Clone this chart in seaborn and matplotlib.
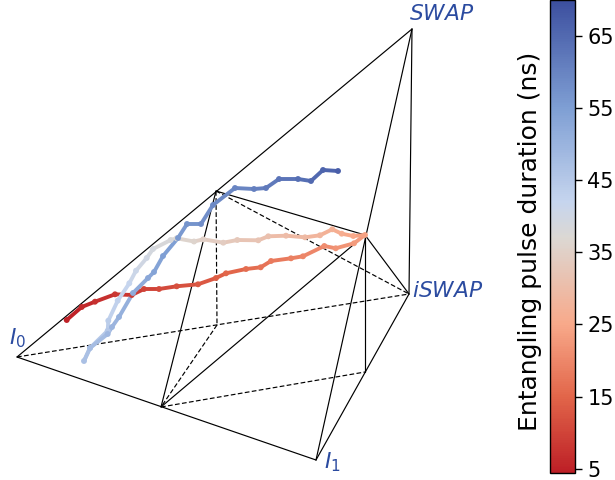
import numpy as np
import pandas as pd
import matplotlib
matplotlib.use('Agg')
import matplotlib.pyplot as plt
from matplotlib.colors import LinearSegmentedColormap
import seaborn as sns

# Weyl chamber corners
I0 = (17, 357)
I1 = (316, 460)
SWAP = (412, 29)
ISWAP = (409, 294)
A = (216, 191)
B = (365, 235)
C = (161, 407)
D = (217, 325)
E = (365, 372)

solid_edges = [(I0, SWAP), (SWAP, ISWAP), (SWAP, I1), (I0, I1), (I1, ISWAP),
               (A, C), (A, B), (B, C), (B, ISWAP), (B, E)]
dashed_edges = [(I0, ISWAP), (A, D), (D, C), (C, E), (A, ISWAP)]

traj_x = [66.7, 81.7, 95, 115, 131.7, 144, 159, 176.7, 198, 216, 226, 246, 260.7,
          271, 291, 303, 324.3, 335.7, 354, 365, 353.3, 341.7, 332.3, 320, 305,
          286, 268.3, 258.3, 237.3, 223.3, 203.3, 194, 176.7, 170.7, 153, 146.7,
          136, 129.3, 117.7, 108.3, 107.7, 90, 84, 90, 107.7, 112, 119, 133, 148,
          154, 163, 178, 187, 201, 213, 235, 254, 266, 279, 298, 311, 323, 338]
traj_y = [320, 307, 301.7, 294.3, 295, 289, 289, 286.3, 284.3, 278, 273.3, 269,
          267.3, 261, 258.3, 256.3, 246, 248.3, 243.3, 235, 236, 233.7, 229.3,
          235.3, 237.3, 235.7, 236.3, 240.3, 240, 242.7, 239.3, 241.5, 238.3, 240,
          249, 258, 270.7, 283.3, 300.7, 320.7, 330.7, 348, 361, 348, 334, 327,
          317, 293, 278, 272, 256, 238, 224, 224, 205, 188, 189, 188, 179, 179,
          181, 170, 171]
duration = list(range(5, 5 + len(traj_x)))

cbar_ticks = [5, 15, 25, 35, 45, 55, 65]
vmin, vmax = 4.4, 70
# colour stops of the bar: duration in ns and the colour read there
stop_ns = [4.4, 15, 25, 37, 42, 55, 70]
stop_colors = ['#bd1f26', '#e2664a', '#f8a98a', '#dcd8d3', '#c6d5ee', '#7f9fd4', '#3c4f9f']

df = pd.DataFrame({'x': traj_x, 'y': traj_y, 'duration': duration})

sns.set_style('white')
fig = plt.figure(figsize=(6.15, 4.8), dpi=100)
ax = fig.add_axes([0, 0, 1, 1])
norm = plt.Normalize(vmin, vmax)
cmap = LinearSegmentedColormap.from_list(
    'pulse', [(float(norm(v)), c) for v, c in zip(stop_ns, stop_colors)])

for p, q in solid_edges:
    ax.plot([p[0], q[0]], [p[1], q[1]], color='k', lw=0.85, zorder=1)
for p, q in dashed_edges:
    ax.plot([p[0], q[0]], [p[1], q[1]], color='k', lw=0.85, ls=(0, (4, 2)), zorder=1)

# one short segment per step so the colour follows the duration
for i in range(len(df) - 1):
    seg = df.iloc[i:i + 2]
    sns.lineplot(data=seg, x='x', y='y', sort=False, estimator=None,
                 color=cmap(norm(seg['duration'].iloc[0])), lw=2.8, ax=ax,
                 legend=False, zorder=2)
sns.scatterplot(data=df, x='x', y='y', hue='duration', palette=cmap,
                hue_norm=norm, s=18, linewidth=0, legend=False, ax=ax, zorder=3)

ax.set_xlim(0, 615)
ax.set_ylim(480, 0)
ax.axis('off')

lab = dict(color='#2b4ba0', fontsize=15.7)
ax.text(409, 14, r'$\mathit{SWAP}$', ha='left', va='center', **lab)
ax.text(412, 291, r'$\mathit{iSWAP}$', ha='left', va='center', **lab)
ax.text(9, 338, r'$\mathit{I}_0$', ha='left', va='center', **lab)
ax.text(324, 462, r'$\mathit{I}_1$', ha='left', va='center', **lab)

cax = fig.add_axes([550 / 615, 1 - 473 / 480, 25 / 615, 473 / 480])
sm = plt.cm.ScalarMappable(norm=norm, cmap=cmap)
cb = fig.colorbar(sm, cax=cax, ticks=cbar_ticks)
cb.ax.tick_params(labelsize=15, colors='k', length=5, width=1, right=True, pad=4)
cb.outline.set_edgecolor('k')
cb.outline.set_linewidth(1)
cb.ax.yaxis.set_label_position('left')
cb.ax.set_ylabel('Entangling pulse duration (ns)', fontsize=18, color='k',
                 labelpad=6, y=0.49)

fig.savefig('out.png', dpi=100)
